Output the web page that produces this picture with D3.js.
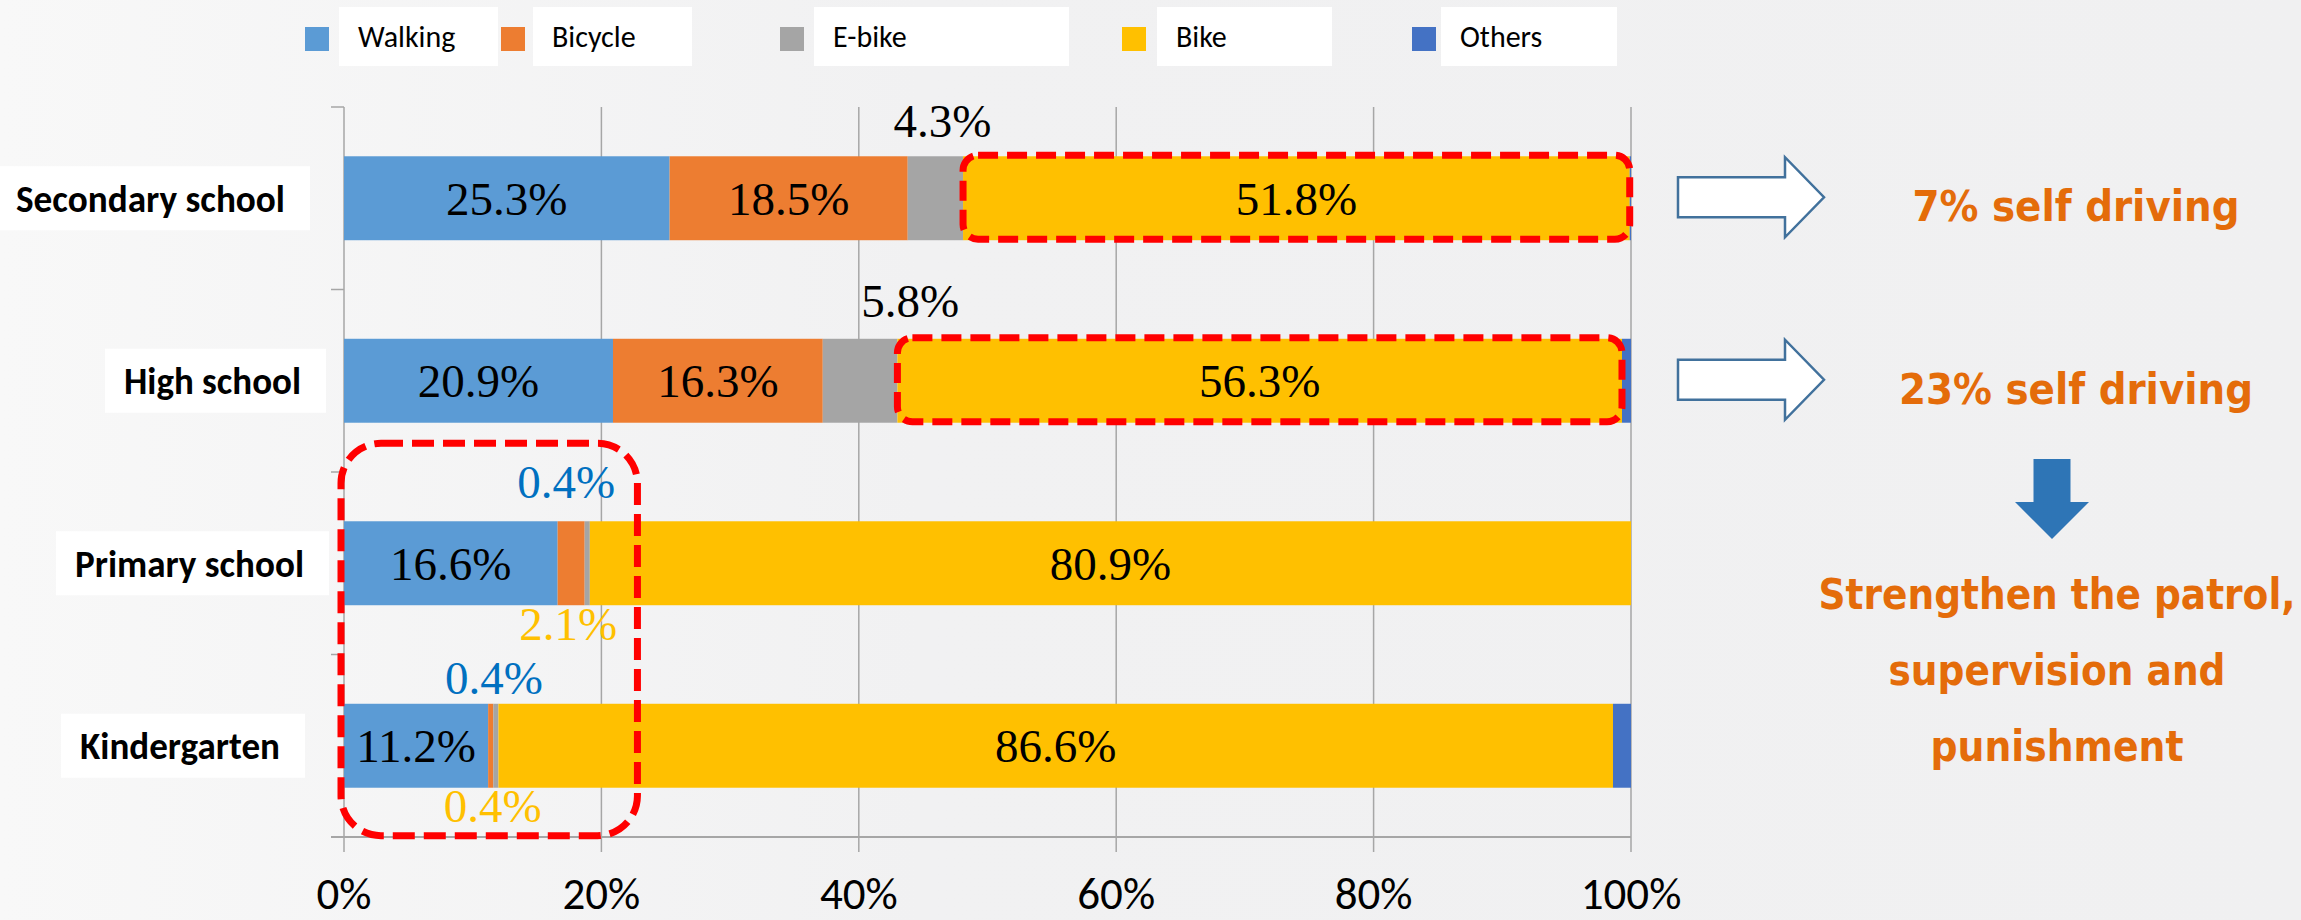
<!DOCTYPE html>
<html>
<head>
<meta charset="utf-8">
<script src="https://cdn.jsdelivr.net/npm/d3@7"></script>
<style>
  html, body { margin: 0; padding: 0; background: #f2f2f3; }
  svg { display: block; }
</style>
</head>
<body>
<div id="chart"></div>
<script>
// categories, top to bottom
const categories = ["Secondary school", "High school", "Primary school", "Kindergarten"];
const seriesNames = ["Walking", "Bicycle", "E-bike", "Bike", "Others"];
const seriesColors = ["#5B9BD5", "#ED7D31", "#A5A5A5", "#FFC000", "#4472C4"];

// share of each mode (%)
const walking = [25.3, 20.9, 16.6, 11.2];
const bicycle = [18.5, 16.3, 2.1, 0.4];
const ebike = [4.3, 5.8, 0.4, 0.4];
const bike = [51.8, 56.3, 80.9, 86.6];
const others = [0.1, 0.7, 0, 1.4];

const xTicks = [0, 20, 40, 60, 80, 100];
const notes = ["7% self driving", "23% self driving"];
const conclusion = ["Strengthen the patrol,", "supervision and", "punishment"];

// layout
const W = 2301, H = 920;
const plot = { left: 344, right: 1631, top: 107, bottom: 837 };
const legendX = [305, 501, 780, 1122, 1412];
const legendBox = [[339, 498], [533, 692], [814, 1069], [1157, 1332], [1441, 1617]];
const catLabelGap = [59, 43, 40, 64];
const catLabelWidth = [269, 177, 229, 200];
const noteWidth = [327, 354];
const conclusionWidth = [477, 337, 253];
const calibri = "Carlito, 'Liberation Sans Narrow', 'Open Sans', sans-serif";
const serif = "'Liberation Serif', 'Times New Roman', serif";
const tahoma = "'DejaVu Sans Condensed', 'DejaVu Sans', Verdana, sans-serif";

const series = [walking, bicycle, ebike, bike, others];
const rows = categories.map((c, i) => {
  const r = { cat: c };
  seriesNames.forEach((s, j) => r[s] = series[j][i]);
  return r;
});
const stacked = d3.stack().keys(seriesNames)(rows);

// squeeze a text to a given width
function fitWidth(sel, w) {
  sel.attr("textLength", w).attr("lengthAdjust", "spacingAndGlyphs");
}

const svg = d3.select("#chart").append("svg")
  .attr("width", W).attr("height", H);

// background
const grad = svg.append("defs").append("linearGradient").attr("id", "bg")
  .attr("x1", "0").attr("x2", "1").attr("y1", "0").attr("y2", "0");
grad.append("stop").attr("offset", "0").attr("stop-color", "#f8f8f8");
grad.append("stop").attr("offset", "0.4").attr("stop-color", "#f1f1f2");
grad.append("stop").attr("offset", "1").attr("stop-color", "#f0f0f1");
svg.append("rect").attr("width", W).attr("height", H).attr("fill", "url(#bg)");

const x = d3.scaleLinear().domain([0, 100]).range([plot.left, plot.right]);
const y = d3.scaleBand().domain(categories).range([plot.top, plot.bottom])
  .paddingInner(0.54).paddingOuter(0.27);
const step = y.step();

// gridlines
svg.append("g").selectAll("line").data(xTicks).join("line")
  .attr("x1", d => x(d)).attr("x2", d => x(d))
  .attr("y1", plot.top).attr("y2", plot.bottom + 15)
  .attr("stroke", "#a6a6a6").attr("stroke-width", 1.5);

// category axis ticks + bottom line
const bounds = d3.range(categories.length + 1).map(i => plot.top + i * step);
svg.append("g").selectAll("line").data(bounds).join("line")
  .attr("x1", plot.left - 13).attr("x2", plot.left)
  .attr("y1", d => d).attr("y2", d => d)
  .attr("stroke", "#a6a6a6").attr("stroke-width", 1.5);
svg.append("line")
  .attr("x1", plot.left - 13).attr("x2", plot.right)
  .attr("y1", plot.bottom).attr("y2", plot.bottom)
  .attr("stroke", "#a6a6a6").attr("stroke-width", 2);

// x tick labels
svg.append("g").selectAll("text").data(xTicks).join("text")
  .attr("x", d => x(d)).attr("y", 909)
  .attr("text-anchor", "middle")
  .style("font-family", calibri).style("font-size", "45px").attr("fill", "#000")
  .text(d => d + "%");

// bars
svg.append("g").selectAll("g").data(stacked).join("g")
  .attr("fill", (d, i) => seriesColors[i])
  .selectAll("rect").data(d => d).join("rect")
  .attr("x", d => x(d[0]))
  .attr("width", d => Math.max(0, x(d[1]) - x(d[0])))
  .attr("y", d => y(d.data.cat))
  .attr("height", y.bandwidth());

// labels inside bars
const inside = [];
stacked.forEach((s, j) => s.forEach((d, i) => {
  const v = series[j][i];
  if (v >= 10) inside.push({ x: (x(d[0]) + x(d[1])) / 2, y: y(d.data.cat) + y.bandwidth() / 2, v: v });
}));
svg.append("g").selectAll("text").data(inside).join("text")
  .attr("x", d => d.x).attr("y", d => d.y).attr("dy", "0.35em")
  .attr("text-anchor", "middle")
  .style("font-family", serif).style("font-size", "47px").attr("fill", "#000")
  .text(d => d.v.toFixed(1) + "%");

// small segment labels outside bars: row, series, shift, side, offset, colour
const outside = [
  [0, 2, 7, "above", -19, "#000"],
  [1, 2, 50, "above", -22, "#000"],
  [2, 2, -21, "above", -23, "#0070C0"],
  [3, 2, -2, "above", -10, "#0070C0"],
  [2, 1, -3, "below", 35, "#FFC000"],
  [3, 1, 2, "below", 34, "#FFC000"]
].map(o => {
  const seg = stacked[o[1]][o[0]];
  const top = y(categories[o[0]]);
  return {
    x: (x(seg[0]) + x(seg[1])) / 2 + o[2],
    y: (o[3] === "above" ? top : top + y.bandwidth()) + o[4],
    v: series[o[1]][o[0]], c: o[5]
  };
});
svg.append("g").selectAll("text").data(outside).join("text")
  .attr("x", d => d.x).attr("y", d => d.y)
  .attr("text-anchor", "middle")
  .style("font-family", serif).style("font-size", "47px").attr("fill", d => d.c)
  .text(d => d.v.toFixed(1) + "%");

// red dashed highlight boxes around Bike segments (top two rows)
[0, 1].forEach(i => {
  const seg = stacked[3][i];
  svg.append("rect")
    .attr("x", x(seg[0])).attr("y", y(categories[i]) - 1)
    .attr("width", Math.min(x(seg[1]), plot.right) - x(seg[0]))
    .attr("height", y.bandwidth())
    .attr("rx", 15).attr("fill", "none")
    .attr("stroke", "#ff0000").attr("stroke-width", 7)
    .attr("stroke-dasharray", "20 9");
});
// big box round the small shares of the two lower rows
svg.append("rect")
  .attr("x", x(0) - 3).attr("y", y("Primary school") - 78)
  .attr("width", x(22.8) - x(0) + 3)
  .attr("height", y("Kindergarten") + y.bandwidth() + 48 - (y("Primary school") - 78))
  .attr("rx", 40).attr("fill", "none")
  .attr("stroke", "#ff0000").attr("stroke-width", 7)
  .attr("stroke-dasharray", "22 9");

// category labels in white boxes
categories.forEach((c, i) => {
  const cy = y(c) + y.bandwidth() / 2;
  const g = svg.append("g");
  const right = plot.left - catLabelGap[i];
  const t = g.append("text")
    .attr("x", right).attr("y", cy).attr("dy", "0.36em")
    .attr("text-anchor", "end")
    .style("font-family", calibri).style("font-size", "38px").style("font-weight", "bold")
    .attr("fill", "#000").text(c);
  fitWidth(t, catLabelWidth[i]);
  const left = right - catLabelWidth[i];
  g.insert("rect", "text")
    .attr("x", Math.max(0, left - 19)).attr("y", cy - 32)
    .attr("width", right + 25 - Math.max(0, left - 19)).attr("height", 64)
    .attr("fill", "#fff");
});

// legend
const leg = svg.append("g");
seriesNames.forEach((s, i) => {
  leg.append("rect").attr("x", legendBox[i][0]).attr("y", 7)
    .attr("width", legendBox[i][1] - legendBox[i][0]).attr("height", 59)
    .attr("fill", "#fff");
  leg.append("rect").attr("x", legendX[i]).attr("y", 27)
    .attr("width", 24).attr("height", 24).attr("fill", seriesColors[i]);
  leg.append("text").attr("x", legendBox[i][0] + 19).attr("y", 47)
    .style("font-family", calibri).style("font-size", "30px").attr("fill", "#000")
    .text(s);
});

// hollow arrows pointing to the notes
const arrow = d3.line()([[0, -20], [107, -20], [107, -40], [146, 0], [107, 40], [107, 20], [0, 20]]) + "Z";
[0, 1].forEach(i => {
  const cy = y(categories[i]) + y.bandwidth() / 2 - 1;
  svg.append("path").attr("d", arrow)
    .attr("transform", `translate(1678,${cy})`)
    .attr("fill", "#fff").attr("stroke", "#41719C").attr("stroke-width", 2.5);
  const t = svg.append("text").attr("x", 2076).attr("y", cy + 24)
    .attr("text-anchor", "middle")
    .style("font-family", tahoma).style("font-size", "42px")
    .style("font-weight", "bold").attr("fill", "#E46C0A")
    .text(notes[i]);
  fitWidth(t, noteWidth[i]);
});

// down arrow
svg.append("path")
  .attr("d", d3.line()([[-18.5, 0], [18.5, 0], [18.5, 43], [37, 43], [0, 80], [-37, 43], [-18.5, 43]]) + "Z")
  .attr("transform", "translate(2052,459)")
  .attr("fill", "#2E75B6");

svg.append("g").selectAll("text").data(conclusion).join("text")
  .attr("x", 2057).attr("y", (d, i) => 609 + i * 76)
  .attr("text-anchor", "middle")
  .style("font-family", tahoma).style("font-size", "42px")
  .style("font-weight", "bold").attr("fill", "#E46C0A")
  .text(d => d)
  .each(function (d, i) { fitWidth(d3.select(this), conclusionWidth[i]); });
</script>
</body>
</html>
